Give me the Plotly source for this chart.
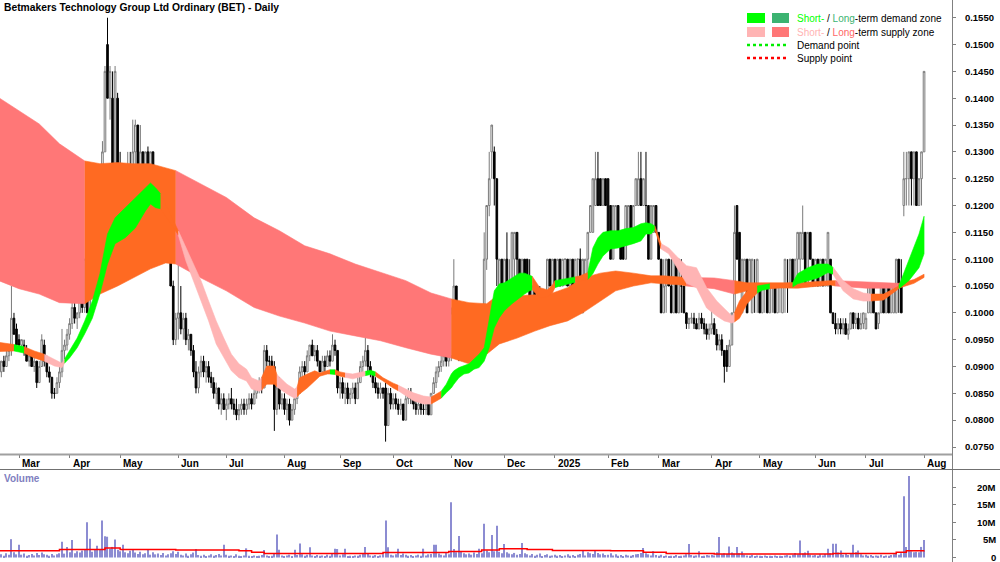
import plotly.graph_objects as go

W, H = 1000, 562

TITLE = "Betmakers Technology Group Ltd Ordinary (BET) - Daily"

# ---------------- candles: (open, high, low, close) in 1/1000 $ ----------------
FEB_2024 = [(90,91,87,89),(89,91,88,91),(91,92,89,90),(90,93,90,92),(92,94,91,93),(93,105,92,99),(99,100,96,96),(97,98,94,94)]
MAR_2024 = [(95,96,93,94),(94,95,93,95),(94,95,92,93),(93,94,91,91),(91,93,90,92),(92,93,90,90),(90,92,89,91),(91,91,86,87),(87,91,87,90),(90,96,90,95),
            (94,95,90,91),(91,92,88,89),(89,90,87,88),(88,88,84,85),(85,86,84,85),(85,88,85,87),(87,90,86,89),(89,97,88,93),(93,95,91,94),(94,97,93,96)]
APR_2024 = [(96,99,95,98),(98,102,97,101),(101,102,98,99),(99,100,97,100),(100,104,99,103),(103,105,100,101),(101,110,100,110),(110,120,100,100),(100,106,99,105),(105,110,104,110),
            (110,110,104,105),(105,115,105,115),(115,121,113,120),(120,132,120,130),(130,146,130,145),(150,155,140,140),(140,146,136,145),(140,145,120,120),(125,146,120,145),(140,141,125,125)]
MAY_2024 = [(125,130,115,120),(125,126,110,110),(110,125,110,125),(125,130,120,125),(125,130,115,120),(120,136,120,130),(130,136,125,135),(135,135,125,125),(125,135,125,130),(130,130,120,125),
            (125,130,125,130),(130,131,125,125),(125,130,124,130),(130,130,120,120),(120,126,115,120),(120,125,115,125),(125,125,115,115),(115,125,115,120),(120,121,115,115),(115,120,110,115),
            (115,115,105,105),(105,106,94,95),(95,100,94,99)]
JUN_2024 = [(99,115,95,100),(100,105,96,97),(97,100,95,99),(99,100,94,95),(95,97,93,96),(96,96,92,93),(93,94,88,89),(89,91,85,86),(86,90,85,89),(89,92,88,91),
            (91,92,88,89),(89,91,87,90),(90,91,87,88),(88,89,86,87),(87,88,84,85),(85,87,83,86),(86,86,82,83),(83,85,81,84),(84,85,82,82)]
JUL_2024 = [(82,84,80,83),(83,85,82,84),(84,86,82,83),(83,84,81,82),(82,84,80,81),(81,83,80,82),(82,84,81,83),(83,84,81,82),(82,84,81,83),(83,85,82,84),
            (84,85,82,83),(83,86,83,85),(85,87,84,86),(86,88,85,87),(87,88,85,86),(86,94,86,93),(93,94,90,91),(91,92,90,91),(91,92,89,90),(90,91,78,82),
            (82,87,81,86),(86,88,82,83),(83,85,82,84)]
AUG_2024 = [(84,85,81,82),(82,84,80,83),(83,84,79,80),(80,83,80,82),(82,84,81,84),(84,86,83,85),(85,90,85,89),(89,91,87,90),(90,91,88,89),(89,93,89,92),
            (92,94,91,94),(94,95,92,92),(92,94,91,93),(93,94,90,91),(91,91,89,89),(89,92,89,91),(91,92,89,90),(90,93,90,92),(92,93,90,91),(91,96,91,94),
            (94,95,92,93),(93,93,85,86)]
SEP_2024 = [(86,88,84,87),(87,88,84,85),(85,87,83,86),(86,87,83,84),(84,86,83,85),(85,87,84,86),(86,87,83,84),(84,88,84,87),(87,91,87,90),(90,92,89,91),
            (91,97,90,93),(93,94,89,90),(90,91,88,89),(89,89,86,87),(87,88,85,86),(86,87,84,85),(85,87,84,86),(86,86,84,85),(86,87,76,79),(79,86,79,85),
            (85,86,82,83)]
OCT_2024 = [(83,85,82,84),(84,85,82,83),(83,84,81,82),(82,84,81,83),(83,83,80,80),(80,85,80,84),(84,86,83,85),(85,86,83,84),(84,85,82,83),(83,84,81,82),
            (82,84,81,83),(83,84,81,82),(82,83,81,82),(82,84,81,83),(83,83,81,81),(81,85,81,85),(85,88,85,87),(87,90,86,89),(89,91,88,90),(90,92,89,91),
            (91,92,90,92),(92,93,90,91),(91,93,90,92)]
NOV_2024 = [(92,101,91,100),(100,110,99,105),(105,105,96,97),(97,99,91,92),(92,95,91,94),(94,96,91,92),(92,95,91,93),(93,95,92,95),(95,96,93,94),(94,100,94,99),
            (99,100,96,97),(97,99,95,98),(98,100,96,99),(99,115,98,110),(110,120,108,120),(120,130,118,125),(130,135,125,135),(130,131,120,125),(125,125,105,110),(105,110,105,110),
            (110,110,100,105)]
DEC_2024 = [(105,110,100,110),(110,115,100,100),(100,110,100,105),(105,115,105,115),(110,115,105,115),(115,115,105,110),(110,110,100,105),(105,110,100,110),(110,110,105,105),(110,110,105,105),
            (105,110,100,100),(100,105,100,105),(105,105,100,100),(100,105,99,100),(100,105,98,100),(100,101,98,99),(99,100,98,100),(100,110,100,110),(110,110,105,105),(105,110,105,110)]
JAN_2025 = [(110,110,105,105),(105,110,105,110),(110,110,105,105),(105,110,105,110),(110,110,105,110),(110,110,105,105),(105,110,100,110),(110,110,105,105),(105,110,105,110),(110,110,105,110),
            (110,112,100,100),(100,110,100,110),(105,110,105,110),(110,115,105,115),(115,120,115,120),(115,125,115,125),(120,130,120,125),(125,130,120,120),(125,125,120,120),(120,125,120,125),
            (125,125,120,120)]
FEB_2025 = [(125,125,115,115),(120,120,110,110),(110,120,110,120),(115,120,115,120),(120,120,115,115),(115,115,110,110),(115,115,110,110),(110,120,110,120),(115,120,115,120),(120,120,115,115),
            (115,120,115,120),(120,125,120,125),(120,130,120,125),(125,130,120,120),(120,125,120,125),(120,130,115,120),(120,120,110,110),(110,120,110,120),(115,120,115,120),(120,120,115,115)]
MAR_2025 = [(115,115,110,110),(110,110,100,100),(100,110,100,105),(105,110,100,110),(110,110,105,105),(105,110,100,100),(100,110,100,110),(110,110,100,100),(100,110,100,110),(105,110,100,105),
            (105,105,100,100),(100,100,97,98),(98,99,97,99),(99,100,98,99),(99,100,97,98),(98,99,97,97),(97,100,97,99),(99,100,97,98),(98,99,96,97),(97,98,95,96),
            (96,98,95,97)]
APR_2025 = [(97,101,96,98),(98,99,96,96),(96,97,93,94),(94,96,93,95),(95,96,92,93),(93,93,87,90),(93,94,89,90),(90,95,90,94),(94,100,94,100),(100,120,100,115),
            (120,120,110,110),(115,115,105,105),(100,110,100,110),(105,110,105,110),(110,110,100,100),(105,110,105,110),(100,110,100,110),(105,110,100,105),(105,110,100,110)]
MAY_2025 = [(105,105,100,100),(100,105,100,105),(105,105,100,105),(105,105,100,100),(100,105,100,105),(105,105,100,105),(105,105,100,100),(100,105,100,105),(105,105,100,105),(100,105,100,105),
            (105,110,100,110),(105,110,100,105),(105,110,105,110),(110,110,105,105),(105,110,105,110),(110,115,105,115),(110,115,105,115),(110,120,110,115),(115,115,105,105),(105,115,105,115),
            (115,115,110,110),(110,110,105,105)]
JUN_2025 = [(105,110,105,110),(110,110,105,105),(105,110,105,110),(110,110,105,105),(105,110,105,110),(105,115,105,115),(110,110,100,100),(100,100,98,98),(98,100,96,97),(97,99,96,98),
            (98,99,96,97),(97,99,96,98),(98,99,96,96),(96,98,95,97),(97,100,97,100),(100,100,97,98),(98,100,97,99),(99,100,97,97),(97,100,97,98),(98,100,97,100)]
JUL_2025 = [(97,100,97,99),(100,105,100,105),(100,105,100,105),(105,105,100,100),(100,100,97,97),(98,100,97,100),(100,105,100,105),(105,105,100,100),(100,105,100,105),(105,105,100,100),
            (100,105,100,105),(100,105,100,105),(100,110,100,110),(110,110,100,105),(105,110,100,100),(120,130,118,125),(125,130,120,125),(125,130,120,130),(130,130,120,125),(125,130,120,130),
            (130,130,120,120),(120,125,120,125),(125,130,120,130)]
AUG_2025 = [(130,145,130,145)]

# ---------------- volume, millions ----------------
VOL_FEB_2024 = [0.6,0.9,0.5,1.2,0.8,5.2,1.5,0.9]
VOL_MAR_2024 = [3.6,0.8,1.1,0.5,0.7,1.0,0.6,1.3,0.7,1.4,0.9,0.8,0.5,1.0,0.6,0.9,1.2,4.5,1.1,3.0]
VOL_APR_2024 = [1.5,5.0,1.2,1.8,1.4,2.0,2.2,10.0,5.3,1.6,2.1,3.3,2.4,10.5,6.0,5.9,2.5,3.0,5.1,2.2]
VOL_MAY_2024 = [1.8,3.6,1.5,1.2,1.9,2.2,1.4,1.0,1.6,0.9,1.2,2.4,0.8,1.5,0.9,1.1,0.7,1.3,0.6,0.9,1.2,1.8,1.0]
VOL_JUN_2024 = [1.6,0.8,0.6,1.1,0.5,0.9,1.4,2.4,0.7,0.5,0.8,0.4,0.6,0.9,0.5,0.7,1.0,0.6,3.6]
VOL_JUL_2024 = [0.8,0.5,0.6,0.4,0.9,0.5,0.3,0.6,2.6,0.5,0.4,0.6,0.3,0.5,0.7,2.1,0.6,0.4,0.5,1.2,6.5,2.2,0.6]
VOL_AUG_2024 = [0.4,0.6,0.8,0.3,2.2,0.7,4.0,0.9,0.5,0.8,2.9,0.6,0.4,0.7,0.5,0.6,0.4,0.8,0.5,1.2,2.5,2.4]
VOL_SEP_2024 = [0.6,0.9,2.5,0.4,0.5,0.3,0.6,0.5,0.8,1.0,3.0,1.2,0.6,0.5,0.7,0.4,0.6,0.9,10.5,2.9,0.8]
VOL_OCT_2024 = [0.6,0.9,2.5,0.7,1.1,0.8,0.5,0.7,0.4,0.6,0.8,0.5,2.5,0.6,0.9,1.0,3.6,3.6,1.1,0.8,0.6,1.3,0.9]
VOL_NOV_2024 = [15.7,2.4,1.5,6.1,1.8,1.2,0.9,1.1,0.8,1.4,1.0,2.5,1.2,9.6,2.0,1.5,6.4,1.8,9.0,1.6,1.2]
VOL_DEC_2024 = [3.8,1.5,1.1,0.9,1.3,0.8,1.0,4.1,1.2,0.9,0.6,1.0,0.5,0.8,1.1,0.4,0.7,0.9,0.5,0.6]
VOL_JAN_2025 = [0.8,0.5,0.7,0.4,0.6,0.9,0.5,0.7,0.4,0.8,1.0,1.9,0.6,1.5,1.2,1.0,2.1,1.3,0.9,1.1,0.7]
VOL_FEB_2025 = [0.8,1.2,0.6,0.9,0.5,0.7,0.4,0.8,0.6,0.5,0.7,0.9,1.0,1.3,2.7,1.2,0.9,0.6,1.8,0.7]
VOL_MAR_2025 = [0.5,0.8,0.4,0.6,0.3,0.5,0.4,0.7,0.3,0.5,0.6,0.9,3.8,0.7,0.5,0.6,1.8,0.4,0.5,0.7,0.6]
VOL_APR_2025 = [0.8,0.6,1.5,5.8,0.9,1.2,1.0,3.1,1.4,1.1,3.0,1.2,1.7,0.8,0.6,0.5,0.7,0.4,0.6]
VOL_MAY_2025 = [0.5,0.4,0.6,0.3,0.5,0.4,0.6,0.3,0.5,0.4,0.6,0.7,0.5,0.8,1.3,0.9,4.8,1.1,1.4,1.9,0.8,0.6]
VOL_JUN_2025 = [0.7,0.5,0.9,0.6,1.0,2.5,1.2,3.9,3.9,1.4,2.0,0.8,1.1,0.7,1.3,3.6,1.5,2.0,0.9,0.6]
VOL_JUL_2025 = [0.8,0.5,0.7,0.4,0.6,0.5,0.8,0.4,0.6,0.5,0.7,0.9,1.1,0.8,1.2,17.4,3.0,23.1,1.8,1.5,1.6,1.5,3.0]
VOL_AUG_2025 = [5.0]

# volume average line: (day index, millions)
VOL_AVG = [(0,1.9),(24,2.3),(42,2.7),(48,2.3),(70,2.1),(95,1.9),(100,1.5),(105,1.1),(152,1.4),(178,1.7),
           (191,2.1),(198,2.5),(209,2.3),(219,2.0),(242,1.9),(255,1.5),(264,1.1),(283,1.0),(330,1.1),(355,1.5),
           (359,1.9),(366,2.0)]

# ---------------- zones: (day index, upper, lower) in 1/1000 $ ----------------
LONG_BAND = [(0,140.1,106.0),(8,137.7,104.5),(16,135.2,103.5),(24,131.5,101.9),(34,128.3,101.7),(40,127.8,103.5),
             (47,128.0,105.0),(53,127.8,106.5),(60,127.8,108.2),(66,127.0,109.3),(70,126.5,109.1),(80,124.0,106.5),
             (90,121.5,104.1),(101,117.7,101.0),(111,115.3,99.4),(121,112.5,98.1),(131,111.0,96.6),(141,109.1,95.7),
             (151,107.5,94.8),(161,106.0,93.5),(171,103.7,92.3),(179,102.6,91.6),(186,101.9,90.5),(193,101.7,92.3),
             (198,103.5,94.2),(205,103.2,95.3),(212,103.3,96.6),(218,103.5,97.6),(225,104.7,98.5),(231,106.5,100.0),
             (238,107.4,102.2),(244,107.8,104.1),(251,107.4,105.0),(258,106.9,105.6),(263,106.9,105.4),(270,106.7,105.2),
             (272,106.6,105.0),(283,106.5,104.5),(291,106.0,103.5),(296,105.6,104.1),(302,105.6,104.7),(316,105.6,104.6),
             (329,106.0,105.2),(331,106.0,105.0),(343,105.8,104.6),(356,105.5,104.6),(362,106.2,105.5),(366,107.2,106.6)]
LONG_ZONES = [(0,34,"supply"),(34,70,"neutral"),(70,179,"supply"),(179,272,"neutral"),(272,291,"supply"),
              (291,331,"neutral"),(331,356,"supply"),(356,366,"neutral")]

SHORT_BAND = [(0,94.5,92.8),(6,94.1,92.9),(10,93.7,92.5),(14,92.9,91.6),(18,92.3,91.0),(22,91.4,90.1),(25,90.6,89.8),
              (26,91.4,90.6),(28,92.9,91.6),(31,95.3,93.5),(34,98.5,96.1),(37,102.2,99.0),(40,107.3,103.5),(43,114.7,109.1),
              (46,117.7,112.9),(50,119.6,114.0),(54,121.4,115.8),(58,123.3,119.0),(60,124.2,120.3),(62,123.3,119.6),
              (64,122.2,119.4),(71,115.3,114.5),(74,112.1,109.7),(77,109.1,106.0),(80,106.0,102.2),(83,102.2,98.5),
              (86,98.5,94.2),(89,95.3,91.6),(92,92.3,89.2),(95,90.5,87.9),(98,89.5,87.3),(100,87.9,85.8),(103,87.3,85.4),
              (104,88.0,85.6),(106,90.1,86.7),(109,90.1,86.7),(110,88.5,86.2),(114,86.7,84.9),(117,85.8,84.1),(118,86.2,84.3),
              (119,87.9,84.9),(122,88.6,86.0),(125,89.2,87.3),(127,88.8,88.2),(130,89.2,88.6),(131,89.4,88.6),(133,89.4,88.5),
              (135,89.0,88.2),(137,88.8,88.0),(140,88.6,87.7),(145,89.1,88.3),(147,89.3,88.5),(149,89.0,88.2),(152,87.9,87.3),
              (156,86.9,86.0),(158,86.5,85.5),(160,86.0,84.9),(164,85.1,83.6),(168,84.5,83.0),(171,84.3,83.0),(173,84.8,83.6),
              (175,85.4,84.1),(177,86.7,85.1),(179,88.6,86.0),(180,89.2,86.7),(182,89.8,87.9),(184,90.1,88.6),(186,90.5,88.8),
              (188,91.4,89.5),(190,92.3,89.8),(192,93.5,91.0),(194,98.5,93.5),(196,104.1,97.2),(198,105.4,99.1),(200,105.6,100.4),
              (203,106.5,101.7),(206,107.4,102.8),(208,107.4,103.5),(210,106.9,104.1),(211,106.8,104.3),(214,104.7,102.8),
              (217,104.3,103.0),(219,105.2,103.7),(220,106.0,104.7),(222,106.2,105.0),(225,106.5,105.4),(228,106.7,105.7),
              (230,106.9,105.9),(233,107.5,106.2),(235,112.1,107.3),(237,114.0,109.1),(239,115.0,110.6),(242,115.3,111.9),
              (245,115.3,112.1),(248,115.7,112.5),(251,115.9,112.9),(254,116.6,113.4),(256,116.8,114.7),(258,116.6,114.7),
              (259.5,116.2,115.5),(262,112.9,111.9),(265,112.1,111.0),(268,110.6,108.6),(272,108.8,105.5),(276,108.4,104.7),
              (280,104.7,100.9),(284,102.2,99.4),(287,100.7,98.5),(290,99.4,98.1),(291,100.0,98.3),(293,102.2,99.0),
              (296,104.1,101.7),(300,105.0,103.7),(302,105.2,104.2),(305,105.4,104.5),(310,105.4,104.7),(314,105.6,104.8),
              (316,107.3,105.4),(320,108.4,106.0),(324,109.1,106.5),(328,109.1,107.5),(330,108.5,107.2),(334,106.0,104.1),
              (338,104.5,102.6),(342,103.7,102.2),(345,103.5,102.2),(350,103.5,102.4),(356,105.0,104.5),(360,109.7,106.0),
              (364,114.7,108.4),(366,118.0,111.0)]
SHORT_ZONES = [(0,6,"neutral"),(6,10,"demand"),(10,18,"neutral"),(18,26,"supply"),(26,64,"demand"),(64,71,"neutral"),
               (71,104,"supply"),(104,110,"neutral"),(110,118,"supply"),(118,131,"neutral"),(131,133,"demand"),
               (133,137,"neutral"),(137,145,"supply"),(145,149,"demand"),(149,158,"neutral"),(158,171,"supply"),
               (171,175,"neutral"),(175,211,"demand"),(211,220,"neutral"),(220,228,"demand"),(228,233,"neutral"),
               (233,259.5,"demand"),(259.5,262,"neutral"),(262,291,"supply"),(291,300,"neutral"),(300,305,"demand"),
               (305,314,"neutral"),(314,330,"demand"),(330,345,"supply"),(345,356,"neutral"),(356,366,"demand")]

MONTH_START_IDX = [8, 28, 48, 71, 90, 113, 135, 156, 179, 200, 220, 241, 261, 282, 301, 323, 343, 366]
MONTH_LABELS = ["Mar", "Apr", "May", "Jun", "Jul", "Aug", "Sep", "Oct", "Nov", "Dec", "2025",
                "Feb", "Mar", "Apr", "May", "Jun", "Jul", "Aug"]
PRICE_TICKS = [0.075, 0.080, 0.085, 0.090, 0.095, 0.100, 0.105, 0.110, 0.115, 0.120,
               0.125, 0.130, 0.135, 0.140, 0.145, 0.150, 0.155]
VOL_TICKS = [0, 5e6, 10e6, 15e6, 20e6]
VOL_TICK_TEXT = ["0", "5M", "10M", "15M", "20M"]

# ---------------- styles ----------------
FONT = "Liberation Sans, Arial, sans-serif"
C_ORANGE = "#FF6A22"
C_LONG_SUPPLY = "#FF7777"
C_SHORT_SUPPLY = "#FFB4B4"
C_SHORT_DEMAND = "#00FF00"
C_LONG_DEMAND = "#3CB371"
LONG_COLORS = {"supply": C_LONG_SUPPLY, "neutral": C_ORANGE, "demand": C_LONG_DEMAND}
SHORT_COLORS = {"supply": C_SHORT_SUPPLY, "neutral": C_ORANGE, "demand": C_SHORT_DEMAND}

candles = [c for m in (FEB_2024, MAR_2024, APR_2024, MAY_2024, JUN_2024, JUL_2024, AUG_2024, SEP_2024,
                       OCT_2024, NOV_2024, DEC_2024, JAN_2025, FEB_2025, MAR_2025, APR_2025, MAY_2025,
                       JUN_2025, JUL_2025, AUG_2025) for c in m]
volume = [v * 1e6 for m in (VOL_FEB_2024, VOL_MAR_2024, VOL_APR_2024, VOL_MAY_2024, VOL_JUN_2024, VOL_JUL_2024,
                            VOL_AUG_2024, VOL_SEP_2024, VOL_OCT_2024, VOL_NOV_2024, VOL_DEC_2024, VOL_JAN_2025,
                            VOL_FEB_2025, VOL_MAR_2025, VOL_APR_2025, VOL_MAY_2025, VOL_JUN_2025, VOL_JUL_2025,
                            VOL_AUG_2025) for v in m]
n = len(candles)
xs = list(range(n))
vx = list(range(len(volume)))

fig = go.Figure()


def add_band(band, zones, colors):
    for s, e, kind in zones:
        pts = [p for p in band if s <= p[0] <= e]
        bx = [p[0] for p in pts]
        up = [p[1] / 1000 for p in pts]
        lo = [p[2] / 1000 for p in pts]
        col = colors[kind]
        fig.add_trace(go.Scatter(x=bx + bx[::-1], y=up + lo[::-1], fill="toself", fillcolor=col,
                                 mode="lines", line=dict(width=0.6, color=col), hoverinfo="skip",
                                 showlegend=False, xaxis="x", yaxis="y"))


add_band(LONG_BAND, LONG_ZONES, LONG_COLORS)
add_band(SHORT_BAND, SHORT_ZONES, SHORT_COLORS)

fig.add_trace(go.Candlestick(
    x=xs, open=[c[0] / 1000 for c in candles], high=[c[1] / 1000 for c in candles],
    low=[c[2] / 1000 for c in candles], close=[c[3] / 1000 for c in candles],
    increasing=dict(line=dict(color="#7A7A7A", width=1), fillcolor="#FFFFFF"),
    decreasing=dict(line=dict(color="#000000", width=1), fillcolor="#000000"),
    whiskerwidth=0, showlegend=False, hoverinfo="skip", xaxis="x", yaxis="y"))

fig.add_trace(go.Bar(x=vx, y=volume, marker=dict(color="#8C8CD2", line=dict(width=0)), width=0.45,
                     showlegend=False, hoverinfo="skip", xaxis="x2", yaxis="y2"))
fig.add_trace(go.Scatter(x=[p[0] for p in VOL_AVG], y=[p[1] * 1e6 for p in VOL_AVG], mode="lines",
                         line=dict(color="#FF0000", width=1.5, shape="hv"), showlegend=False,
                         hoverinfo="skip", xaxis="x2", yaxis="y2"))

# ---------------- geometry ----------------
X_RIGHT = 952.0
PRICE_BOTTOM = 454.0
VOL_TOP = 470.0
x_range = [(0 + 1.2) / 2.528, (X_RIGHT + 1.2) / 2.528]
p_per_px = 0.005 / 26.83
y_range = [0.075 - (PRICE_BOTTOM - 447) * p_per_px, 0.075 + 447 * p_per_px]
v_per_px = 1e6 / 3.525
v_range = [-(H - 557.5) * v_per_px, (557.5 - VOL_TOP) * v_per_px]


def px(x):
    return x / W


def py(y):
    return 1 - y / H


tick_font = dict(family=FONT, size=9.5, color="#000000", weight="bold")

fig.update_layout(
    width=W, height=H, margin=dict(l=0, r=0, t=0, b=0),
    paper_bgcolor="white", plot_bgcolor="white", showlegend=False,
    font=dict(family=FONT), boxgap=0.08,
    xaxis=dict(domain=[0, px(X_RIGHT)], range=x_range, anchor="y", showgrid=False, zeroline=False,
               showline=False, tickmode="array", tickvals=MONTH_START_IDX, showticklabels=False,
               ticks="outside", ticklen=3, tickcolor="#808080", rangeslider=dict(visible=False)),
    yaxis=dict(domain=[py(PRICE_BOTTOM), 1], range=y_range, side="right", anchor="x", showgrid=False,
               zeroline=False, showline=False, tickmode="array", tickvals=PRICE_TICKS,
               ticktext=["%.4f" % t for t in PRICE_TICKS], ticks="outside", ticklen=3, tickcolor="#808080",
               tickfont=tick_font, ticklabelstandoff=7),
    xaxis2=dict(domain=[0, px(X_RIGHT)], range=x_range, anchor="y2", showgrid=False, zeroline=False,
                showline=False, showticklabels=False, ticks=""),
    yaxis2=dict(domain=[0, py(VOL_TOP)], range=v_range, side="right", anchor="x2", showgrid=False,
                zeroline=False, showline=False, tickmode="array", tickvals=VOL_TICKS, showticklabels=False,
                ticks="outside", ticklen=3, tickcolor="#808080"),
)

shapes = [
    dict(type="line", xref="paper", yref="paper", x0=px(X_RIGHT + 0.5), x1=px(X_RIGHT + 0.5), y0=0, y1=1,
         line=dict(color="#808080", width=1)),
    dict(type="line", xref="paper", yref="paper", x0=0, x1=px(X_RIGHT), y0=py(PRICE_BOTTOM + 0.5),
         y1=py(PRICE_BOTTOM + 0.5), line=dict(color="#A0A0A0", width=2)),
    dict(type="line", xref="paper", yref="paper", x0=0, x1=1, y0=py(VOL_TOP - 0.5), y1=py(VOL_TOP - 0.5),
         line=dict(color="#707070", width=1)),
]

annotations = [
    dict(text="<b>" + TITLE + "</b>", xref="paper", yref="paper", x=px(2), y=py(8), xanchor="left",
         yanchor="middle", showarrow=False, font=dict(family=FONT, size=10.3, color="#000000")),
    dict(text="<b>Volume</b>", xref="paper", yref="paper", x=px(2), y=py(478), xanchor="left",
         yanchor="middle", showarrow=False, font=dict(family=FONT, size=10, color="#8080C0")),
]
for idx, lab in zip(MONTH_START_IDX, MONTH_LABELS):
    annotations.append(dict(text="<b>" + lab + "</b>", xref="x", yref="paper", x=idx, y=py(463),
                            xanchor="left", yanchor="middle", xshift=1, showarrow=False,
                            font=dict(family=FONT, size=10, color="#000000")))
for val, lab in zip(VOL_TICKS, VOL_TICK_TEXT):
    annotations.append(dict(text="<b>" + lab + "</b>", xref="paper", yref="y2", x=px(998), y=val,
                            xanchor="right", yanchor="middle", showarrow=False,
                            font=dict(family=FONT, size=9.5, color="#000000")))

# legend (top right)
LEG_X0, LEG_X1, LEG_X2, LEG_X3 = 747, 765, 772, 789
legend_rows = [
    (18, ("rect", C_SHORT_DEMAND, C_LONG_DEMAND),
     "<span style='color:%s'>Short-</span> / <span style='color:%s'>Long</span>-term demand zone" % (C_SHORT_DEMAND, C_LONG_DEMAND)),
    (32, ("rect", C_SHORT_SUPPLY, C_LONG_SUPPLY),
     "<span style='color:%s'>Short-</span> / <span style='color:%s'>Long</span>-term supply zone" % (C_SHORT_SUPPLY, "#FF6666")),
    (45, ("dot", "#00EE00"), "Demand point"),
    (58, ("dot", "#FF0000"), "Supply point"),
]
for yc, sym, txt in legend_rows:
    if sym[0] == "rect":
        shapes.append(dict(type="rect", xref="paper", yref="paper", x0=px(LEG_X0), x1=px(LEG_X1),
                           y0=py(yc - 5), y1=py(yc + 5), fillcolor=sym[1], line=dict(width=0)))
        shapes.append(dict(type="rect", xref="paper", yref="paper", x0=px(LEG_X2), x1=px(LEG_X3),
                           y0=py(yc - 5), y1=py(yc + 5), fillcolor=sym[2], line=dict(width=0)))
    else:
        shapes.append(dict(type="line", xref="paper", yref="paper", x0=px(LEG_X0), x1=px(LEG_X3),
                           y0=py(yc), y1=py(yc), line=dict(color=sym[1], width=2.5, dash="dot")))
    annotations.append(dict(text=txt, xref="paper", yref="paper", x=px(795), y=py(yc), xanchor="left",
                            yanchor="middle", showarrow=False, font=dict(family=FONT, size=10, color="#000000")))

fig.update_layout(shapes=shapes, annotations=annotations)

fig.write_html("out.html", config={"displayModeBar": False})
